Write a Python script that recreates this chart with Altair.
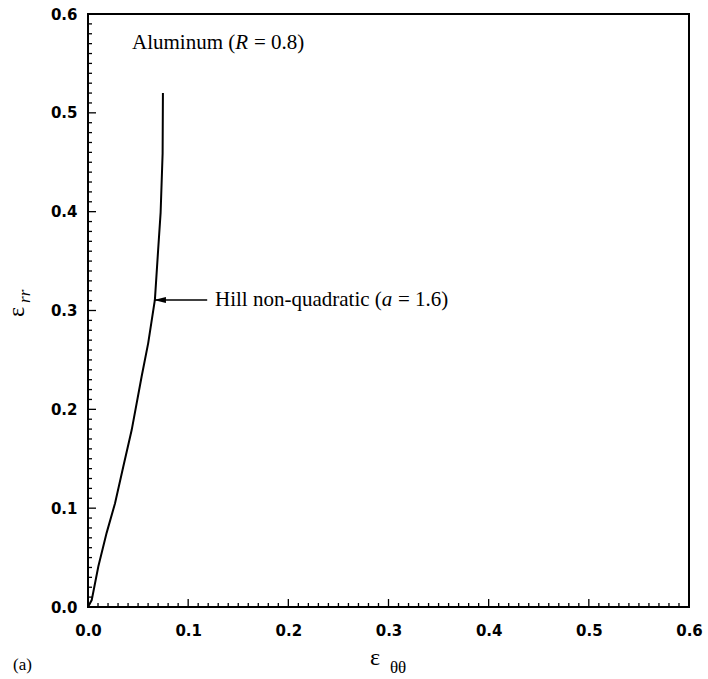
import altair as alt
import numpy as np
import pandas as pd

# ---- data ----
eps_tt = [0.0, 0.0037, 0.0103, 0.0186, 0.027, 0.0352, 0.0436, 0.0535, 0.0601,
          0.0668, 0.070, 0.0725, 0.0745, 0.0748]
eps_rr = [0.0, 0.007, 0.041, 0.075, 0.105, 0.142, 0.179, 0.233, 0.267,
          0.311, 0.361, 0.399, 0.459, 0.520]
major_ticks = [0.0, 0.1, 0.2, 0.3, 0.4, 0.5, 0.6]
minor_ticks = [round(v, 2) for v in np.arange(0.0, 0.601, 0.01) if round(v * 100) % 10 != 0]

W, H = 601, 593
SERIF = "Liberation Serif"
TICKFONT = "DejaVu Sans"
NB = "\u00a0"

xs = alt.Scale(domain=[0, 0.6], nice=False, zero=False)
ys = alt.Scale(domain=[0, 0.6], nice=False, zero=False)

curve_df = pd.DataFrame({"x": eps_tt, "y": eps_rr, "i": range(len(eps_tt))})

axis_common = dict(values=major_ticks, format=".1f", ticks=False, domain=False,
                   grid=False, title=None, labelFont=TICKFONT, labelFontWeight="bold",
                   labelFontSize=15, labelColor="black", labelFlush=False)

curve = alt.Chart(curve_df).mark_line(color="black", strokeWidth=2).encode(
    x=alt.X("x:Q", scale=xs, axis=alt.Axis(labelPadding=16, **axis_common)),
    y=alt.Y("y:Q", scale=ys, axis=alt.Axis(labelPadding=11, **axis_common)),
    order="i:Q",
)

maj_df = pd.DataFrame({"v": major_ticks})
min_df = pd.DataFrame({"v": minor_ticks})

def xticks(df, L):
    return alt.Chart(df).mark_rule(color="black", strokeWidth=1.3).encode(
        x=alt.X("v:Q", scale=xs), y=alt.value(H), y2=alt.value(H - L))

def yticks(df, L):
    return alt.Chart(df).mark_rule(color="black", strokeWidth=1.3).encode(
        y=alt.Y("v:Q", scale=ys), x=alt.value(0), x2=alt.value(L))

frame = alt.Chart(pd.DataFrame({"a": [0]})).mark_rect(
    fill=None, stroke="black", strokeWidth=2).encode(
    x=alt.value(0), x2=alt.value(W), y=alt.value(0), y2=alt.value(H))

# ---- annotations ----
def txt(s, x, y, size=21, style="normal", dx=0, angle=0, font=SERIF, align="left"):
    return alt.Chart(pd.DataFrame({"x": [x], "y": [y], "t": [s]})).mark_text(
        font=font, fontSize=size, fontStyle=style, align=align, baseline="middle",
        dx=dx, angle=angle, color="black").encode(
        x=alt.X("x:Q", scale=xs), y=alt.Y("y:Q", scale=ys), text="t:N")

title_x, title_y = 0.0439, 0.5707
ann_x, ann_y = 0.1268, 0.3106

arrow_df = pd.DataFrame({"x": [0.0658], "x2": [0.119], "y": [ann_y]})
arrow_line = alt.Chart(arrow_df).mark_rule(color="black", strokeWidth=1.3).encode(
    x=alt.X("x:Q", scale=xs), x2="x2:Q", y=alt.Y("y:Q", scale=ys))
arrow_head = alt.Chart(arrow_df).mark_point(
    shape="M 0 0 L 2 -0.5 L 2 0.5 Z", size=144, filled=True, color="black", opacity=1).encode(
    x=alt.X("x:Q", scale=xs), y=alt.Y("y:Q", scale=ys))

layers = [
    curve,
    xticks(maj_df, 8), xticks(min_df, 4),
    yticks(maj_df, 8), yticks(min_df, 4),
    frame,
    txt("Aluminum (", title_x, title_y),
    txt("R", title_x, title_y, style="italic", dx=103.3),
    txt("=" + NB + "0.8)", title_x, title_y, dx=122.0),
    arrow_line, arrow_head,
    txt("Hill non-quadratic (", ann_x, ann_y),
    txt("a", ann_x, ann_y, style="italic", dx=166.8),
    txt("=" + NB + "1.6)", ann_x, ann_y, dx=183.0),
    txt("(a)", -0.0749, -0.0587, size=17),
    txt("ε", 0.2865, -0.0516, size=24, align="center"),
    txt("θθ", 0.3014, -0.0617, size=17),
    txt("ε", -0.0709, 0.2985, size=24, angle=270, align="center"),
    txt("rr", -0.0629, 0.3077, size=17, style="italic", angle=270),
]

chart = alt.layer(*layers).properties(
    width=W, height=H,
    autosize=alt.AutoSizeParams(type="none"),
    padding={"left": 88, "top": 14, "right": 19, "bottom": 72},
).configure_view(stroke=None).configure(background="white")

chart.save("out.html", embed_options={"renderer": "svg", "actions": False})
